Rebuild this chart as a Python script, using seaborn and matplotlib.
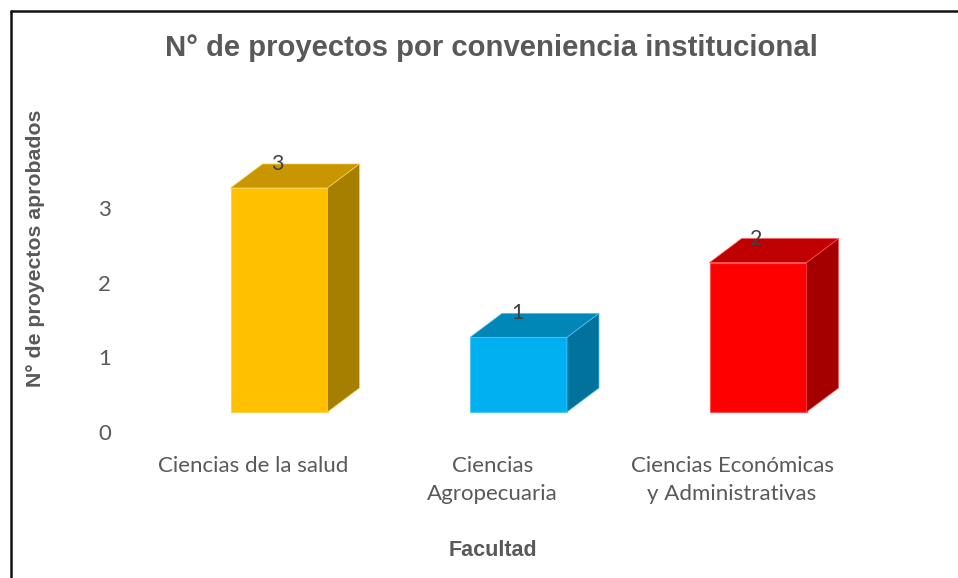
import numpy as np
import pandas as pd
import seaborn as sns
import matplotlib.pyplot as plt
from matplotlib.patches import Polygon
from matplotlib.lines import Line2D
from matplotlib.transforms import ScaledTranslation

# Data
facultades = ["Ciencias de la salud", "Ciencias\nAgropecuaria", "Ciencias Económicas\ny Administrativas"]
proyectos = [3, 1, 2]

# Colours of the faces (front, top, side)
front_colors = ["#FFC000", "#00B0F0", "#FF0000"]
top_colors = ["#C79600", "#0087B8", "#C00000"]
side_colors = ["#A67F00", "#00729C", "#A50000"]
edge_colors = ["#FFD24D", "#4FC8F5", "#FF5050"]

sns.set_theme(style="white")
plt.rcParams["font.family"] = ["Liberation Sans", "DejaVu Sans"]

df = pd.DataFrame({"facultad": facultades, "proyectos": proyectos})

fig = plt.figure(figsize=(9.58, 5.78), dpi=100)
ax = fig.add_axes([0.1391, 0.2526, 0.75, 0.5168])

sns.barplot(data=df, x="facultad", y="proyectos", hue="facultad", palette=front_colors,
            saturation=1, width=0.405, legend=False, ax=ax)
ax.set_xlim(-0.5, 2.5)
ax.set_ylim(0, 4)
ax.set_yticks([0, 1, 2, 3])
sns.despine(ax=ax, left=True, bottom=True)
ax.set_xlabel("")
ax.set_ylabel("")

# shift of the front plane and depth of the 3d boxes (pixels)
shift = ax.transData + ScaledTranslation(0.26, 0.20, fig.dpi_scale_trans)
px_x = ax.get_position().width * 958 / 3.0
px_y = ax.get_position().height * 578 / 4.0
dx = 32 / px_x
dy = 24 / px_y

bars = sorted(ax.patches, key=lambda p: p.get_x())
for i, p in enumerate(bars):
    x0 = p.get_x()
    x1 = x0 + p.get_width()
    h = p.get_height()
    p.set_transform(shift)
    p.set_edgecolor(edge_colors[i])
    p.set_linewidth(0.8)
    p.set_clip_on(False)
    top = Polygon([(x0, h), (x1, h), (x1 + dx, h + dy), (x0 + dx, h + dy)],
                  closed=True, facecolor=top_colors[i], edgecolor=edge_colors[i], linewidth=0.5,
                  transform=shift, clip_on=False)
    side = Polygon([(x1, 0), (x1 + dx, dy), (x1 + dx, h + dy), (x1, h)],
                   closed=True, facecolor=side_colors[i], edgecolor=edge_colors[i], linewidth=0.5,
                   transform=shift, clip_on=False)
    ax.add_patch(top)
    ax.add_patch(side)
    ax.text(x0 + p.get_width() / 2 - 0.006, h + dy, str(proyectos[i]), transform=shift,
            ha="center", va="center", fontsize=15.5, color="#404040", family=["Lato", "DejaVu Sans"])

ax.tick_params(axis="both", length=0, colors="#595959")
ax.tick_params(axis="x", pad=17)
ax.tick_params(axis="y", pad=16)
for lab in ax.get_xticklabels() + ax.get_yticklabels():
    lab.set_fontfamily(["Lato", "DejaVu Sans"])
    lab.set_fontsize(16)
    lab.set_color("#595959")
for lab in ax.get_xticklabels():
    lab.set_linespacing(1.5)

fig.text(491 / 958, 1 - 48 / 578, "N° de proyectos por conveniencia institucional",
         ha="center", va="center", fontsize=21.1, fontweight="bold", color="#595959")
fig.text(36 / 958, 1 - 248 / 578, "N° de proyectos aprobados", rotation=90,
         ha="center", va="center", fontsize=15.3, fontweight="bold", color="#595959")
fig.text(493 / 958, 1 - 551 / 578, "Facultad",
         ha="center", va="center", fontsize=15.5, fontweight="bold", color="#595959")

# chart border (left and top visible)
fig.add_artist(Line2D([10.5 / 958, 10.5 / 958], [0, 1 - 10.5 / 578], color="#111111", linewidth=1.8))
fig.add_artist(Line2D([10.5 / 958, 1], [1 - 10.5 / 578, 1 - 10.5 / 578], color="#111111", linewidth=1.8))

fig.savefig("out.png", dpi=100)
